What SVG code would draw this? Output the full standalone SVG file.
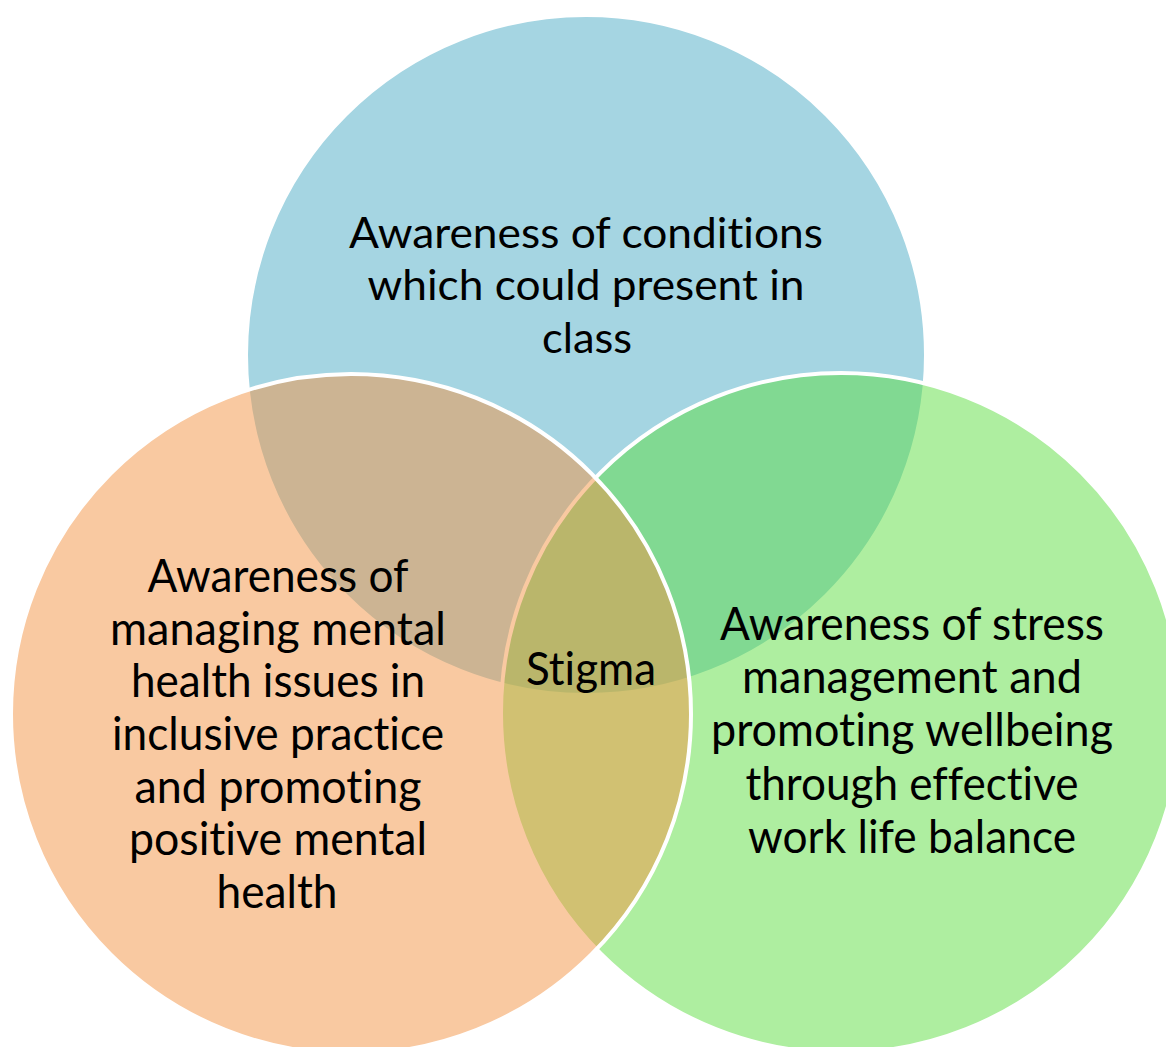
<svg xmlns="http://www.w3.org/2000/svg" width="1166" height="1047" viewBox="0 0 1166 1047">
  <style>
    .set { fill-opacity: 0.5; stroke: #ffffff; stroke-width: 4; }
    .label { font-family: Lato, "Open Sans", "Liberation Sans", sans-serif; fill: #000000; text-anchor: middle; font-variant-ligatures: none; font-feature-settings: "liga" 0, "clig" 0; }
    .top { font-size: 42px; }
    .side { font-size: 46px; }
  </style>
  <rect width="1166" height="1047" fill="#ffffff"/>

  <!-- Three overlapping sets, translucent so the overlaps blend -->
  <g id="conditions">
    <circle class="set" cx="586" cy="355" r="340" fill="#4babc5"/>
  </g>
  <g id="stress">
    <circle class="set" cx="841" cy="713" r="340" fill="#5ddd41"/>
  </g>
  <g id="inclusive">
    <circle class="set" cx="351" cy="714" r="340" fill="#f39343"/>
  </g>

  <!-- Set labels -->
  <g id="conditions-label" class="label top">
    <text x="586" y="248" textLength="474" lengthAdjust="spacingAndGlyphs">Awareness of conditions</text>
    <text x="586" y="300" textLength="437" lengthAdjust="spacingAndGlyphs">which could present in</text>
    <text x="587" y="353" textLength="90" lengthAdjust="spacingAndGlyphs">class</text>
  </g>
  <g id="inclusive-label" class="label side">
    <text x="278" y="592" textLength="261" lengthAdjust="spacingAndGlyphs">Awareness of</text>
    <text x="278" y="645" textLength="336" lengthAdjust="spacingAndGlyphs">managing mental</text>
    <text x="278" y="697" textLength="294" lengthAdjust="spacingAndGlyphs">health issues in</text>
    <text x="278" y="750" textLength="332" lengthAdjust="spacingAndGlyphs">inclusive practice</text>
    <text x="278" y="803" textLength="287" lengthAdjust="spacingAndGlyphs">and promoting</text>
    <text x="278" y="855" textLength="298" lengthAdjust="spacingAndGlyphs">positive mental</text>
    <text x="277" y="908" textLength="121" lengthAdjust="spacingAndGlyphs">health</text>
  </g>
  <g id="stress-label" class="label side">
    <text x="912" y="640" textLength="384" lengthAdjust="spacingAndGlyphs">Awareness of stress</text>
    <text x="912" y="693" textLength="340" lengthAdjust="spacingAndGlyphs">management and</text>
    <text x="912" y="746" textLength="402" lengthAdjust="spacingAndGlyphs">promoting wellbeing</text>
    <text x="912" y="800" textLength="333" lengthAdjust="spacingAndGlyphs">through effective</text>
    <text x="912" y="853" textLength="328" lengthAdjust="spacingAndGlyphs">work life balance</text>
  </g>
  <g id="stigma" class="label side">
    <text x="591" y="685" textLength="130" lengthAdjust="spacingAndGlyphs">Stigma</text>
  </g>
</svg>
